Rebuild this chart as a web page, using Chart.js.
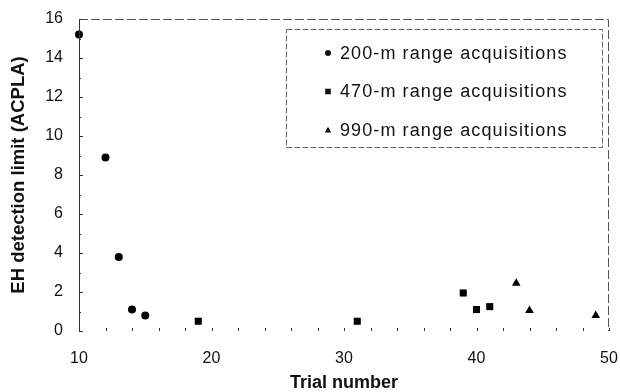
<!DOCTYPE html>
<html><head><meta charset="utf-8">
<script src="https://cdn.jsdelivr.net/npm/chart.js@4.4.0/dist/chart.umd.min.js"></script>
<style>html,body{margin:0;padding:0;background:#fff}#w{width:620px;height:392px}</style>
</head><body><div id="w"><canvas id="c" width="620" height="392"></canvas></div>
<script>
const seriesNames = ['200-m range acquisitions','470-m range acquisitions','990-m range acquisitions'];
const trials200 = [10, 12, 13, 14, 15];
const values200 = [15.2, 8.9, 3.8, 1.1, 0.8];
const trials470 = [19, 31, 39, 40, 41];
const values470 = [0.5, 0.5, 1.95, 1.1, 1.25];
const trials990 = [43, 44, 49];
const values990 = [2.45, 1.05, 0.8];
const yTicks = [0, 2, 4, 6, 8, 10, 12, 14, 16];
const xTicks = [10, 20, 30, 40, 50];

const pts = (xs, ys) => xs.map((x, i) => ({x, y: ys[i]}));
const FONT = 'Liberation Sans, Arial, sans-serif';

const framePlugin = {
  id: 'frame',
  afterDatasetsDraw(chart) {
    const {ctx, chartArea: a, scales: {x, y}} = chart;
    ctx.save();
    ctx.strokeStyle = '#333';
    ctx.lineWidth = 1;
    ctx.setLineDash([]);
    ctx.beginPath(); ctx.moveTo(a.left + 0.5, a.top); ctx.lineTo(a.left + 0.5, a.bottom); ctx.stroke();
    ctx.strokeStyle = '#555';
    ctx.setLineDash([9, 3]);
    ctx.beginPath(); ctx.moveTo(a.left, a.top + 0.5); ctx.lineTo(a.right - 0.5, a.top + 0.5); ctx.lineTo(a.right - 0.5, a.bottom); ctx.stroke();
    ctx.setLineDash([]);
    ctx.strokeStyle = '#333';
    for (let v = y.min; v <= y.max; v += 1) {
      const py = Math.round(y.getPixelForValue(v)) + 0.5;
      const len = (v % 2 === 0) ? 4 : 2;
      ctx.beginPath(); ctx.moveTo(a.left, py); ctx.lineTo(a.left + len, py); ctx.stroke();
    }
    for (let v = x.min; v <= x.max; v += 2) {
      const px = Math.round(x.getPixelForValue(v)) + 0.5;
      ctx.beginPath(); ctx.moveTo(px, a.bottom - 3); ctx.lineTo(px, a.bottom); ctx.stroke();
    }
    // legend box
    const bx = 286, by = 29, bw = 316, bh = 118;
    ctx.strokeStyle = '#666';
    ctx.setLineDash([6, 2]);
    ctx.strokeRect(bx + 0.5, by + 0.5, bw, bh);
    ctx.setLineDash([]);
    ctx.fillStyle = '#111';
    ctx.font = '18px ' + FONT;
    ctx.letterSpacing = '1.1px';
    ctx.textBaseline = 'middle';
    chart.data.datasets.forEach((ds, i) => {
      const cy = 53 + i * 38.5;
      const mx = 328;
      ctx.beginPath();
      if (ds.pointStyle === 'circle') { ctx.arc(mx, cy, 3, 0, Math.PI * 2); ctx.fill(); }
      else if (ds.pointStyle === 'rect') { ctx.fillRect(mx - 2.8, cy - 2.8, 5.6, 5.6); }
      else { ctx.moveTo(mx, cy - 3.2); ctx.lineTo(mx + 3.2, cy + 2.6); ctx.lineTo(mx - 3.2, cy + 2.6); ctx.closePath(); ctx.fill(); }
      ctx.fillText(ds.label, 340, cy + 1);
    });
    ctx.restore();
  }
};

new Chart(document.getElementById('c'), {
  type: 'scatter',
  data: {
    datasets: [
      {label: seriesNames[0], data: pts(trials200, values200), pointStyle: 'circle', pointRadius: 4, backgroundColor: '#000', borderColor: '#000', borderWidth: 0},
      {label: seriesNames[1], data: pts(trials470, values470), pointStyle: 'rect', pointRadius: 5, backgroundColor: '#000', borderColor: '#000', borderWidth: 0},
      {label: seriesNames[2], data: pts(trials990, values990), pointStyle: 'triangle', pointRadius: 5, backgroundColor: '#000', borderColor: '#000', borderWidth: 0}
    ]
  },
  options: {
    responsive: false,
    animation: false,
    clip: false,
    layout: {padding: {left: 8, right: 11, top: 19, bottom: 0}},
    plugins: {legend: {display: false}, tooltip: {enabled: false}},
    scales: {
      x: {
        type: 'linear', min: 10, max: 50,
        afterBuildTicks(s) { s.ticks = xTicks.map(v => ({value: v})); },
        grid: {display: false, drawTicks: false},
        border: {display: false},
        ticks: {color: '#111', font: {family: FONT, size: 16}, padding: 18},
        title: {display: true, text: 'Trial number', color: '#111', font: {family: FONT, size: 18, weight: 'bold', lineHeight: 1}, padding: {top: 0, bottom: 0}},
        afterFit(s) { s.height = 61; s.paddingLeft = 0; s.paddingRight = 0; }
      },
      y: {
        type: 'linear', min: 0, max: 16,
        afterBuildTicks(s) { s.ticks = yTicks.map(v => ({value: v})); },
        grid: {display: false, drawTicks: false},
        border: {display: false},
        ticks: {color: '#111', font: {family: FONT, size: 16}, padding: 16},
        title: {display: true, text: 'EH detection limit (ACPLA)', color: '#111', font: {family: FONT, size: 18.5, weight: 'bold', lineHeight: 1.2}, padding: {top: 0, bottom: 0}},
        afterFit(s) { s.width = 71; s.paddingTop = 0; s.paddingBottom = 0; }
      }
    }
  },
  plugins: [framePlugin]
});
</script>
</body></html>
